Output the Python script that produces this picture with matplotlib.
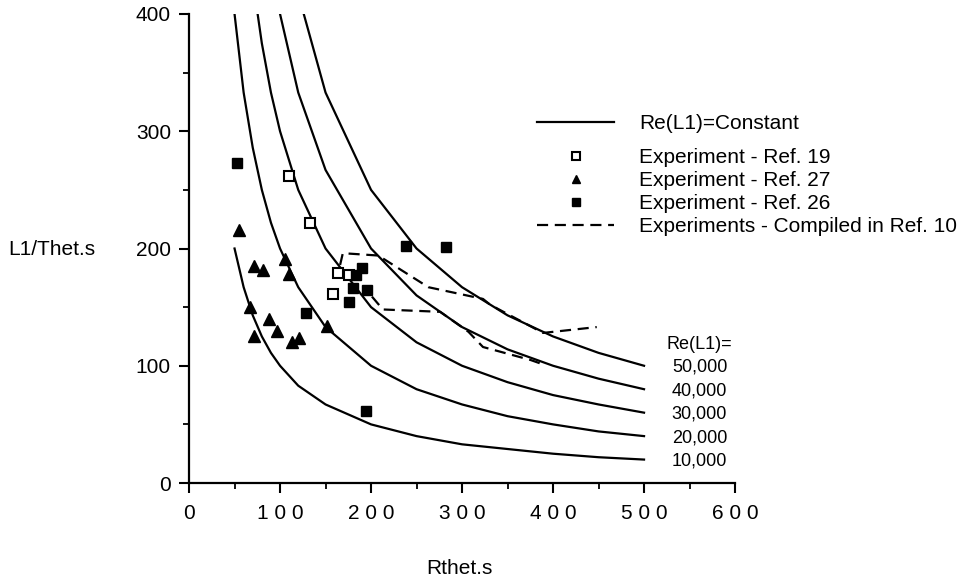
#!/usr/bin/env python3
"""Re(L1)=constant curves with experimental L1/Thet.s vs Rthet.s data."""

import matplotlib
matplotlib.use("Agg")
import matplotlib.pyplot as plt
from matplotlib.ticker import MultipleLocator

plt.rcParams["font.family"] = ["Liberation Sans", "DejaVu Sans"]

# Re(L1) = constant curves
rthet = [50, 60, 70, 80, 90, 100, 120, 150, 200, 250, 300, 350, 400, 450, 500]
re_labels = ["10,000", "20,000", "30,000", "40,000", "50,000"]
re_10k = [200, 167, 143, 125, 111, 100, 83, 67, 50, 40, 33, 29, 25, 22, 20]
re_20k = [400, 333, 286, 250, 222, 200, 167, 133, 100, 80, 67, 57, 50, 44, 40]
re_30k = [600, 500, 429, 375, 333, 300, 250, 200, 150, 120, 100, 86, 75, 67, 60]
re_40k = [800, 667, 571, 500, 444, 400, 333, 267, 200, 160, 133, 114, 100, 89, 80]
re_50k = [1000, 833, 714, 625, 556, 500, 417, 333, 250, 200, 167, 143, 125, 111, 100]

# Experiment - Ref. 19 (open squares)
ref19_x = [110, 133, 164, 176, 158]
ref19_y = [262, 222, 179, 177, 161]

# Experiment - Ref. 27 (triangles)
ref27_x = [55, 71, 81, 105, 110, 67, 88, 97, 71, 113, 121, 152]
ref27_y = [216, 185, 182, 191, 178, 150, 140, 130, 125, 120, 124, 134]

# Experiment - Ref. 26 (filled squares)
ref26_x = [53, 129, 190, 184, 180, 196, 176, 195, 238, 282]
ref26_y = [273, 145, 183, 177, 166, 165, 154, 61, 202, 201]

# Experiments - Compiled in Ref. 10 (dashed)
ref10a_x = [166, 169, 208, 263, 323, 331, 389, 448]
ref10a_y = [186, 196, 194, 167, 157, 152, 128, 133]
ref10b_x = [201, 213, 276, 307, 323, 375, 386]
ref10b_y = [159, 148, 146, 129, 116, 105, 102]

fig = plt.figure(figsize=(9.65, 5.83), dpi=100)
ax = fig.add_axes([0.1959, 0.1715, 0.5658, 0.8045])

curves = [re_10k, re_20k, re_30k, re_40k, re_50k]
line_handle = None
for i, cv in enumerate(curves):
    ln, = ax.plot(rthet, cv, color="black", lw=1.6, solid_joinstyle="miter")
    line_handle = line_handle or ln
    ax.annotate(re_labels[i], (rthet[-1], cv[-1]), xytext=(20, -1),
                textcoords="offset points", fontsize=13, va="center", ha="left")
ax.annotate("Re(L1)=", (rthet[-1], re_50k[-1]), xytext=(16, 15),
            textcoords="offset points", fontsize=13, va="center", ha="left")

h19, = ax.plot(ref19_x, ref19_y, ls="none", marker="s", ms=7, mfc="white",
               mec="black", mew=1.5)
h27, = ax.plot(ref27_x, ref27_y, ls="none", marker="^", ms=8, color="black")
h26, = ax.plot(ref26_x, ref26_y, ls="none", marker="s", ms=7, color="black")
h10, = ax.plot(ref10a_x, ref10a_y, color="black", lw=1.6, dashes=(5, 3))
ax.plot(ref10b_x, ref10b_y, color="black", lw=1.6, dashes=(5, 3))

ax.set_xlim(0, 600)
ax.set_ylim(0, 400)
ax.spines["top"].set_visible(False)
ax.spines["right"].set_visible(False)
for s in ("left", "bottom"):
    ax.spines[s].set_linewidth(1.6)

ax.xaxis.set_major_locator(MultipleLocator(100))
ax.xaxis.set_minor_locator(MultipleLocator(50))
ax.yaxis.set_major_locator(MultipleLocator(100))
ax.yaxis.set_minor_locator(MultipleLocator(50))
ax.set_xticks(range(0, 601, 100))
ax.set_xticklabels(["0", "1 0 0", "2 0 0", "3 0 0", "4 0 0", "5 0 0", "6 0 0"])
ax.tick_params(which="major", direction="out", length=7, width=1.5,
               labelsize=15, pad=6)
ax.tick_params(which="minor", direction="out", length=4, width=1.3)
ax.tick_params(axis="x", which="major", pad=8)

ax.set_xlabel("Rthet.s", fontsize=15, va="center")
ax.xaxis.set_label_coords(0.496, -0.183)
ax.set_ylabel("L1/Thet.s", fontsize=15, rotation=0, ha="left", va="center")
ax.yaxis.set_label_coords(-0.3315, 0.497)

leg_kw = dict(loc="upper left", bbox_transform=fig.transFigure, frameon=False,
              fontsize=15, handlelength=3.7, handletextpad=1.2,
              labelspacing=0.2, borderpad=0, borderaxespad=0, markerscale=0.8)
leg1 = ax.legend([line_handle], ["Re(L1)=Constant"],
                 bbox_to_anchor=(537 / 965, 1 - 114 / 583), **leg_kw)
ax.add_artist(leg1)
ax.legend([h19, h27, h26, h10],
          ["Experiment - Ref. 19", "Experiment - Ref. 27",
           "Experiment - Ref. 26", "Experiments - Compiled in Ref. 10"],
          bbox_to_anchor=(537 / 965, 1 - 148 / 583), **leg_kw)

fig.savefig("out.png", dpi=100)
